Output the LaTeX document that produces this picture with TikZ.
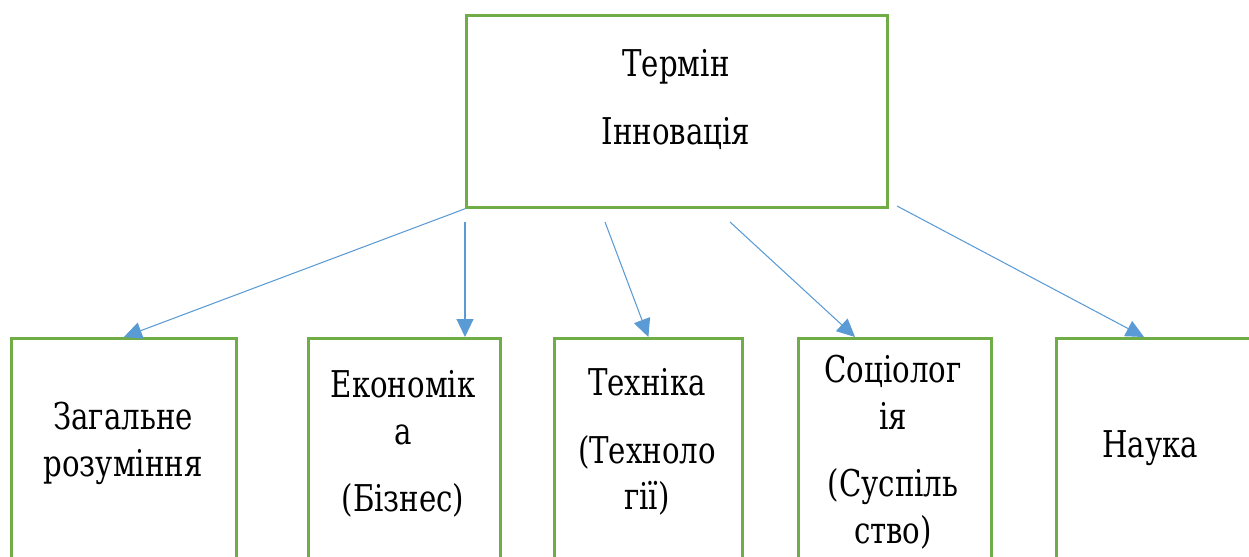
\documentclass[tikz,border=0pt]{standalone}
\usepackage{fontspec}
\setmainfont{DejaVu Serif Condensed}[FakeStretch=0.88]
\usetikzlibrary{arrows.meta}
\definecolor{boxgreen}{HTML}{70AD47}
\definecolor{arrblue}{HTML}{5B9BD5}
\begin{document}
\begin{tikzpicture}[x=0.02cm,y=-0.02cm,
  box/.style={draw=boxgreen,line width=1.6pt,inner sep=0pt,anchor=north west},
  lbl/.style={align=center,inner sep=0pt,anchor=north,font=\rmfamily\fontsize{21}{26.5}\selectfont},
  arr/.style={draw=arrblue,line width=0.6pt,-{Triangle[length=0.36cm,width=0.34cm]}}]
\clip (0,0) rectangle (1249,557);
% boxes
\node[box,minimum width=8.42cm,minimum height=3.84cm] (term) at (465,14) {};
\node[box,minimum width=4.5cm,minimum height=6cm] (zag) at (10,337) {};
\node[box,minimum width=3.84cm,minimum height=6cm] (ekon) at (307,337) {};
\node[box,minimum width=3.76cm,minimum height=6cm] (tech) at (553,337) {};
\node[box,minimum width=3.86cm,minimum height=6cm] (soc) at (797,337) {};
\node[box,minimum width=4.4cm,minimum height=6cm] (nauka) at (1055,337) {};
% texts
\node[lbl] (termtxt) at (676,49) {Термін\\[12pt]Інновація};
\node[lbl] (zagtxt) at (123,402) {Загальне\\розуміння};
\node[lbl] (ekontxt) at (403,370) {Економік\\а\\[12pt](Бізнес)};
\node[lbl] (techtxt) at (647,368) {Техніка\\[12pt](Техноло\\гії)};
\node[lbl] (soctxt) at (893,355) {Соціолог\\ія\\[12pt](Суспіль\\ство)};
\node[lbl] (naukatxt) at (1150,430) {Наука};
% arrows
\coordinate (s2) at (465,222);
\coordinate (s3) at (605,222);
\coordinate (s4) at (730,222);
\coordinate (s5) at (897,206);
\coordinate (e4) at (855,0);
\coordinate (e5) at (1144,0);
\draw[arr] (term.south west) -- (zag.north);
\draw[arr] (s2) -- (s2 |- ekon.north);
\draw[arr] (s3) -- (tech.north);
\draw[arr] (s4) -- (e4 |- soc.north);
\draw[arr] (s5) -- (e5 |- nauka.north);
\end{tikzpicture}
\end{document}
